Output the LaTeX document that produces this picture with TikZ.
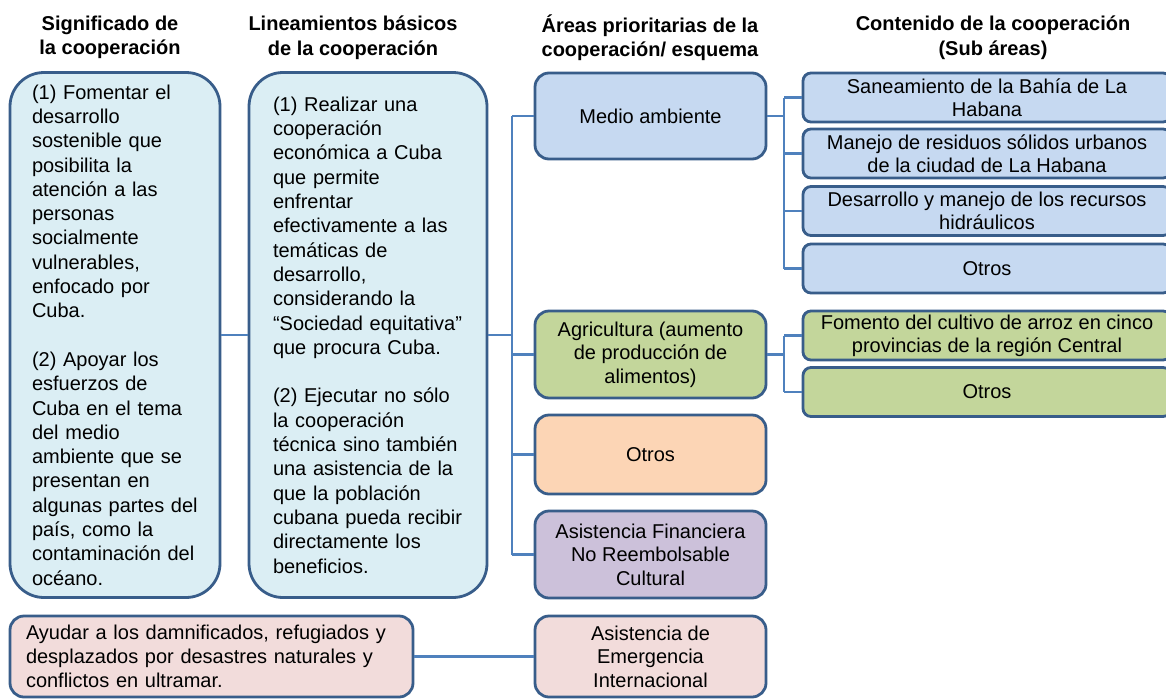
\documentclass[tikz,border=0pt]{standalone}
\usepackage{fontspec}
\setmainfont{Liberation Sans}
\definecolor{bordc}{HTML}{385D8A}
\definecolor{connc}{HTML}{4F81BD}
\definecolor{bigfill}{HTML}{DBEEF4}
\definecolor{bluefill}{HTML}{C6D9F1}
\definecolor{greenfill}{HTML}{C3D69B}
\definecolor{orangefill}{HTML}{FCD5B5}
\definecolor{purplefill}{HTML}{CCC1DA}
\definecolor{pinkfill}{HTML}{F2DCDB}
\tikzset{
  bodyfont/.style={font=\fontsize{20}{24.3}\selectfont},
  hdr/.style={font=\fontsize{20}{24.5}\selectfont\bfseries, align=center, inner sep=0pt},
  bigbox/.style={draw=bordc, line width=2.8pt, fill=bigfill, rounded corners=34pt,
     align=left, inner ysep=0pt, bodyfont},
  midbox/.style={draw=bordc, line width=2.8pt, rounded corners=14pt, align=center,
     minimum width=231pt, inner sep=0pt, font=\fontsize{20}{23.5}\selectfont},
  subbox/.style={draw=bordc, line width=2.8pt, fill=bluefill, rounded corners=8pt, align=center,
     minimum width=368pt, minimum height=49pt, inner sep=0pt, font=\fontsize{20}{23}\selectfont},
  conn/.style={draw=connc, line width=2.2pt},
}
\begin{document}
\begin{tikzpicture}[x=1pt, y=-1pt]
\clip (0,0) rectangle (1166,699);
\fill[white] (0,0) rectangle (1166,699);

% headers
\node[hdr] (h1) at (110,37.5) {Significado de\\la cooperación};
\node[hdr] (h2) at (353,37.5) {Lineamientos básicos\\de la cooperación};
\node[hdr] (h3) at (650,37.5) {Áreas prioritarias de la\\cooperación/ esquema};
\node[hdr] (h4) at (993,37.5) {Contenido de la cooperación\\(Sub áreas)};

% big boxes
\node[bigbox, minimum width=210pt, minimum height=525pt, text width=166pt, inner xsep=22pt] (sig) at (115,335)
{(1) Fomentar el\\desarrollo\\sostenible que\\posibilita la\\atención a las\\personas\\socialmente\\vulnerables,\\enfocado por\\Cuba.\\[24.3pt](2) Apoyar los\\esfuerzos de\\Cuba en el tema\\del medio\\ambiente que se\\presentan en\\algunas partes del\\país, como la\\contaminación del\\océano.};

\node[bigbox, minimum width=238pt, minimum height=525pt, text width=190pt, inner xsep=24pt] (lin) at (368,335)
{(1) Realizar una\\cooperación\\económica a Cuba\\que permite\\enfrentar\\efectivamente a las\\temáticas de\\desarrollo,\\considerando la\\“Sociedad equitativa”\\que procura Cuba.\\[24.3pt](2) Ejecutar no sólo\\la cooperación\\técnica sino también\\una asistencia de la\\que la población\\cubana pueda recibir\\directamente los\\beneficios.};

% middle column
\node[midbox, fill=bluefill, minimum height=86pt] (med) at (650.5,116) {Medio ambiente};
\node[midbox, fill=greenfill, minimum height=87pt] (agr) at (650.5,354.5) {Agricultura (aumento\\de producción de\\alimentos)};
\node[midbox, fill=orangefill, minimum height=79pt] (otr) at (650.5,454.5) {Otros};
\node[midbox, fill=purplefill, minimum height=87pt] (afn) at (650.5,554.5) {Asistencia Financiera\\No Reembolsable\\Cultural};
\node[midbox, fill=pinkfill, minimum height=81pt] (eme) at (650.5,656.5) {Asistencia de\\Emergencia\\Internacional};

% bottom left
\node[draw=bordc, line width=2.8pt, fill=pinkfill, rounded corners=14pt, align=left,
  minimum height=81pt, text width=371pt, inner xsep=16pt, inner ysep=0pt,
  font=\fontsize{20}{24}\selectfont] (ayu) at (211.5,656.5)
  {Ayudar a los damnificados, refugiados y\\desplazados por desastres naturales y\\conflictos en ultramar.};

% sub areas
\node[subbox] (san) at (987,97.5) {Saneamiento de la Bahía de La\\Habana};
\node[subbox] (man) at (987,153.5) {Manejo de residuos sólidos urbanos\\de la ciudad de La Habana};
\node[subbox] (des) at (987,211) {Desarrollo y manejo de los recursos\\hidráulicos};
\node[subbox] (otb) at (987,268.5) {Otros};
\node[subbox, fill=greenfill] (fom) at (987,335.5) {Fomento del cultivo de arroz en cinco\\provincias de la región Central};
\node[subbox, fill=greenfill] (otg) at (987,392) {Otros};

% bus coordinates
\coordinate (bus) at (512,0);
\coordinate (sbus) at (784,0);

% connectors
\draw[conn] (sig.east) -- (lin.west);
\draw[conn] (lin.east) -- (lin.east -| bus);
\draw[conn] (bus |- med.west) -- (bus |- afn.west);
\draw[conn] (bus |- med.west) -- (med.west);
\draw[conn] (bus |- agr.west) -- (agr.west);
\draw[conn] (bus |- otr.west) -- (otr.west);
\draw[conn] (bus |- afn.west) -- (afn.west);

\draw[conn] (med.east) -- (med.east -| sbus);
\draw[conn] (sbus |- san.west) -- (sbus |- otb.west);
\draw[conn] (sbus |- san.west) -- (san.west);
\draw[conn] (sbus |- man.west) -- (man.west);
\draw[conn] (sbus |- des.west) -- (des.west);
\draw[conn] (sbus |- otb.west) -- (otb.west);

\draw[conn] (agr.east) -- (agr.east -| sbus);
\draw[conn] (sbus |- fom.west) -- (sbus |- otg.west);
\draw[conn] (sbus |- fom.west) -- (fom.west);
\draw[conn] (sbus |- otg.west) -- (otg.west);

\draw[conn] (ayu.east) -- (eme.west);
\end{tikzpicture}
\end{document}
